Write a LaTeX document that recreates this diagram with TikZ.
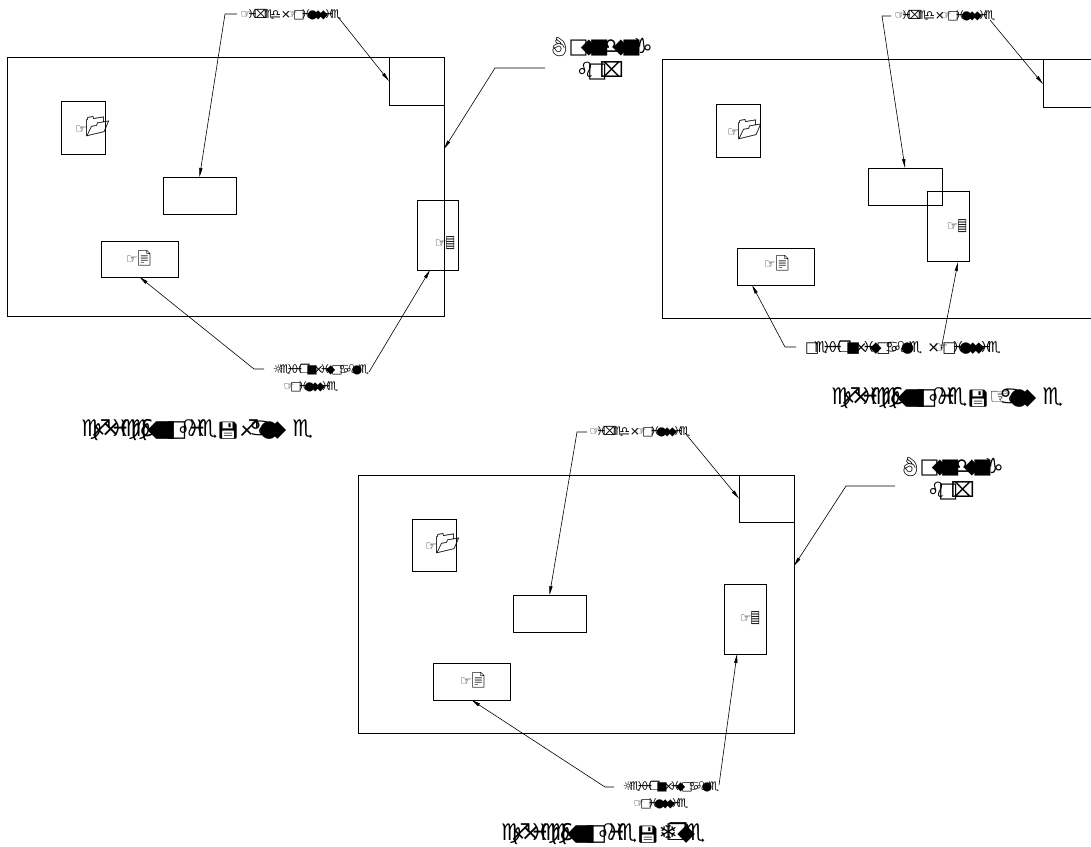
\documentclass[tikz,border=0pt]{standalone}
\usepackage{fontspec}
\usetikzlibrary{arrows.meta}
\newfontfamily\wdsmall[LetterSpace=-34]{DejaVu Sans}
\newfontfamily\wdwide[LetterSpace=-36]{DejaVu Sans}
\newfontfamily\wdbig[LetterSpace=-46]{DejaVu Sans}
\newfontfamily\wdplain{DejaVu Sans}
\newfontfamily\emo{Noto Emoji}
\newcommand{\lblFixed}{\wdsmall ☞♓⌧♏♎ ×☞□♓●◆◆♓♏}
\newcommand{\lblTail}{\wdsmall ☞□♓●◆◆♓♏}
\newcommand{\lblResize}{\wdsmall ☼♏♓♓❐■×♓◆□♋♌●♏}
\newcommand{\lblOver}{\wdwide □♏♓♓❐■×♓◆□♋♌●♏\hspace{5pt}×☞□♓●◆◆♓♏}
\newcommand{\lblBoundA}{\wdwide {\emo\fontsize{19}{19}\selectfont 👌}\hspace{-3pt}□◆■♎◆■♑}
\newcommand{\lblBoundB}{\wdwide ♌□⌧}
\newcommand{\ttlHead}{\wdbig ♍♐×♓♍♍\&◆■□♌♓♏{\emo\fontsize{17}{17}\selectfont 💾}}
\newcommand{\foldermark}{{\wdplain ☞}\hspace{-2pt}{\emo\fontsize{20}{20}\selectfont 📂}}
\newcommand{\pagemark}{{\wdplain ☞}\hspace{-3pt}{\emo\fontsize{15}{15}\selectfont 📄}}
\newcommand{\listmark}{{\wdplain ☞}\hspace{-1pt}{\wdplain\scalebox{0.8}[1.3]{▤}}}
\tikzset{
  panel/.style={draw,line width=0.7pt},
  box/.style={draw,line width=0.7pt,minimum width=#1,inner sep=0pt,outer sep=0pt},
  callout/.style={inner sep=0pt,font=\fontsize{12}{17}\selectfont,align=center},
  bigcall/.style={inner sep=0pt,font=\fontsize{21}{24}\selectfont,align=center},
  widecall/.style={inner sep=0pt,font=\fontsize{15}{17}\selectfont},
  ttl/.style={inner sep=0pt,font=\fontsize{23}{26}\selectfont},
  inner/.style={inner sep=0pt,font=\fontsize{13}{14}\selectfont},
  lead/.style={draw,line width=0.6pt,-{Triangle[length=9pt,width=3.2pt]}},
}
\newcommand{\rbox}[5]{\node[box=#4-#2,minimum height=#5-#3] (#1) at ({(#2+#4)/2},{(#3+#5)/2}) {};}
\begin{document}
\begin{tikzpicture}[x=1pt,y=-1pt]
\useasboundingbox (0,0) rectangle (1091,846);
% panel 1
\rbox{aP}{7}{57}{444}{316}
\rbox{aC}{389}{57}{444}{105}
\rbox{aF}{61}{101}{105}{154}
\rbox{aE}{163}{177}{236}{214}
\rbox{aL}{101}{241}{178}{277}
\rbox{aR}{417}{200}{458}{270}
\node[inner] (aFt) at (93,127) {\foldermark};
\node[inner] (aLt) at (140,258) {\pagemark};
\node[inner] (aRt) at (445,243) {\listmark};
\node[callout] (aT) at (291,15) {\lblFixed};
\node[bigcall] (aB) at (600,59) {\lblBoundA\\\lblBoundB};
\node[callout] (aS) at (321,378) {\lblResize\\\lblTail\hspace*{20pt}};
\node[ttl] (aH) at (197,430) {\ttlHead ♐♋●◆\hspace{6pt}♏};
\coordinate (aT1) at (225,14);
\coordinate (aTs) at (237,14);
\coordinate (aTr) at (338,17);
\coordinate (aBs) at (545,68);
\coordinate (aB1) at (495,68);
\coordinate (aPe) at (444,149);
\coordinate (aSs) at (264,369);
\coordinate (aS1) at (254,369);
\coordinate (aSr) at (369,372);
\coordinate (aRb) at (430,270);
\draw[lead] (aTs) -- (aT1) -- (aE.north);
\draw[lead] (aTr) -- (aC.west);
\draw[lead] (aBs) -- (aB1) -- (aPe);
\draw[lead] (aSs) -- (aS1) -- (aL.south);
\draw[lead] (aSr) -- (aRb);
% panel 2 (runs off the right edge)
\draw[panel] (1091,59) -- (662,59) -- (662,318) -- (1091,318);
\draw[panel] (1091,59) -- (1043,59) -- (1043,107) -- (1091,107);
\coordinate (bCw) at (1043,84);
\rbox{bF}{716}{104}{760}{157}
\rbox{bE}{868}{168}{942}{205}
\rbox{bL}{737}{248}{814}{285}
\rbox{bR}{927}{191}{969}{261}
\node[inner] (bFt) at (745,130) {\foldermark};
\node[inner] (bLt) at (778,263) {\pagemark};
\node[inner] (bRt) at (957,226) {\listmark};
\node[callout] (bT) at (945,16) {\lblFixed};
\node[widecall] (bS) at (903,348) {\lblOver};
\node[ttl] (bH) at (947,398) {\ttlHead ☞♋●◆\hspace{6pt}♏};
\coordinate (bTs) at (891,16);
\coordinate (bT1) at (882,16);
\coordinate (bTr) at (990,20);
\coordinate (bEt) at (905,168);
\coordinate (bSs) at (796,347);
\coordinate (bS1) at (785,347);
\coordinate (bLb) at (752,285);
\coordinate (bSr) at (941,350);
\coordinate (bRb) at (958,262);
\draw[lead] (bTs) -- (bT1) -- (bEt);
\draw[lead] (bTr) -- (bCw);
\draw[lead] (bSs) -- (bS1) -- (bLb);
\draw[lead] (bSr) -- (bRb);
% panel 3
\rbox{cP}{358}{475}{794}{733}
\rbox{cC}{739}{475}{794}{522}
\rbox{cF}{412}{519}{456}{571}
\rbox{cE}{513}{595}{586}{632}
\rbox{cL}{433}{663}{510}{700}
\rbox{cR}{724}{584}{766}{654}
\node[inner] (cFt) at (443,544) {\foldermark};
\node[inner] (cLt) at (474,680) {\pagemark};
\node[inner] (cRt) at (750,618) {\listmark};
\node[callout] (cT) at (640,432) {\lblFixed};
\node[bigcall] (cB) at (951,479) {\lblBoundA\\\lblBoundB};
\node[callout] (cS) at (671,795) {\lblResize\\\lblTail\hspace*{20pt}};
\node[ttl] (cH) at (603,834) {\ttlHead ❄❒◆♏};
\coordinate (cTs) at (587,432);
\coordinate (cT1) at (577,432);
\coordinate (cTr) at (685,433);
\coordinate (cBs) at (895,486);
\coordinate (cB1) at (846,486);
\coordinate (cPe) at (794,566);
\coordinate (cSs) at (614,787);
\coordinate (cS1) at (605,787);
\coordinate (cSr) at (719,785);
\coordinate (cRb) at (737,654);
\draw[lead] (cTs) -- (cT1) -- (cE.north);
\draw[lead] (cTr) -- (cC.west);
\draw[lead] (cBs) -- (cB1) -- (cPe);
\draw[lead] (cSs) -- (cS1) -- (cL.south);
\draw[lead] (cSr) -- (cRb);
\end{tikzpicture}
\end{document}
